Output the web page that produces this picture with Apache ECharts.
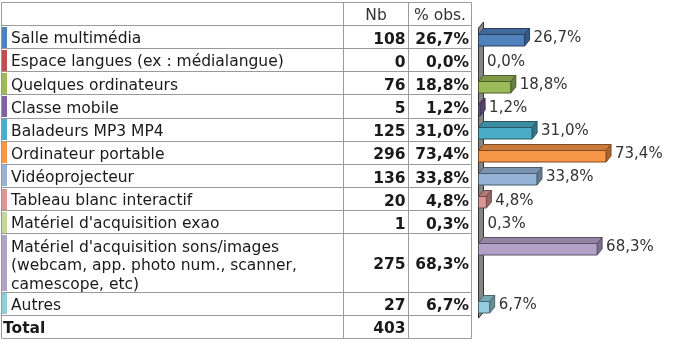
<!DOCTYPE html>
<html>
<head>
<meta charset="utf-8">
<script src="https://cdn.jsdelivr.net/npm/echarts@6/dist/echarts.min.js"></script>
<style>html,body{margin:0;padding:0;background:#fff}#c{width:673px;height:346px}</style>
</head>
<body>
<div id="c"></div>
<script>
// ---- data ----
const categories = [
  'Salle multimédia',
  'Espace langues (ex : médialangue)',
  'Quelques ordinateurs',
  'Classe mobile',
  'Baladeurs MP3 MP4',
  'Ordinateur portable',
  'Vidéoprojecteur',
  'Tableau blanc interactif',
  "Matériel d'acquisition exao",
  "Matériel d'acquisition sons/images\n(webcam, app. photo num., scanner,\ncamescope, etc)",
  'Autres'
];
const counts = [108, 0, 76, 5, 125, 296, 136, 20, 1, 275, 27];
const percents = [26.7, 0.0, 18.8, 1.2, 31.0, 73.4, 33.8, 4.8, 0.3, 68.3, 6.7];
const headerLabels = ['Nb', '% obs.'];
const totalLabel = 'Total';
const totalCount = 403;

// ---- style ----
const palette = ['#4F81BD', '#C0504D', '#9BBB59', '#8064A2', '#4BACC6', '#F79646',
                 '#95B3D7', '#D99694', '#C3D69B', '#B3A2C7', '#93CDDD'];
const FONT_FAMILY = '"DejaVu Sans", Verdana, sans-serif';
const FS = 15.5;
const FS_LABEL = 15;
const TEXT = '#1a1a1a';
const BORDER = '#9a9a9a';

// ---- layout ----
const TOP = 2.5, HEADER_H = 23, ROW_H = 23.15, LINE_H = 17.5;
const X_L = 1.5, X_C1 = 343.5, X_C2 = 408.5, X_C3 = 471.5;
const rows = [];
let yy = TOP + HEADER_H;
categories.forEach(c => {
  const n = c.split('\n').length;
  const h = ROW_H + LINE_H * (n - 1);
  rows.push({ top: yy, h: h });
  yy += h;
});
const totalTop = yy;
const tableBottom = yy + ROW_H;
const snap = v => Math.round(v - 0.5) + 0.5;
const fmtPct = v => v.toFixed(1).replace('.', ',') + '%';

function shade(hex, f) {
  const n = parseInt(hex.slice(1), 16);
  const r = Math.round(((n >> 16) & 255) * f), g = Math.round(((n >> 8) & 255) * f), b = Math.round((n & 255) * f);
  return 'rgb(' + r + ',' + g + ',' + b + ')';
}

// ---- table (graphic) ----
const els = [];
function hline(y) {
  els.push({ type: 'line', silent: true, shape: { x1: X_L, y1: snap(y), x2: X_C3, y2: snap(y) }, style: { stroke: BORDER, lineWidth: 1 } });
}
function vline(x) {
  els.push({ type: 'line', silent: true, shape: { x1: x, y1: snap(TOP), x2: x, y2: snap(tableBottom) }, style: { stroke: BORDER, lineWidth: 1 } });
}
function txt(s, x, y, opt) {
  els.push({ type: 'text', silent: true, x: x, y: y, style: {
    text: s, font: (opt.bold ? 'bold ' : '') + FS + 'px ' + FONT_FAMILY,
    fill: opt.fill || TEXT, align: opt.align || 'left', verticalAlign: opt.va || 'middle',
    lineHeight: opt.lh || undefined
  } });
}
hline(TOP); hline(TOP + HEADER_H);
rows.forEach(r => hline(r.top + r.h));
hline(tableBottom);
[X_L, X_C1, X_C2, X_C3].forEach(vline);

txt(headerLabels[0], (X_C1 + X_C2) / 2, TOP + HEADER_H / 2 + 2, { align: 'center', fill: '#333' });
txt(headerLabels[1], (X_C2 + X_C3) / 2, TOP + HEADER_H / 2 + 2, { align: 'center', fill: '#333' });

categories.forEach((c, i) => {
  const r = rows[i];
  els.push({ type: 'rect', silent: true, shape: { x: X_L + 0.5, y: Math.round(r.top) + 1, width: 5, height: Math.round(r.h) - 2 }, style: { fill: palette[i] } });
  txt(c, 11, r.top + 4.5, { va: 'top', lh: 18.5 });
  const cy = r.top + r.h / 2 + 2.5;
  txt(String(counts[i]), X_C2 - 3, cy, { bold: true, align: 'right' });
  txt(fmtPct(percents[i]), X_C3 - 2.5, cy, { bold: true, align: 'right' });
});
txt(totalLabel, 3, totalTop + ROW_H / 2 + 2, { bold: true });
txt(String(totalCount), X_C2 - 3, totalTop + ROW_H / 2 + 2, { bold: true, align: 'right' });

// ---- chart ----
const FH = 11.5, DX = 5, DY = 6;
const barData = percents.map((p, i) => [p, rows[i].top - TOP + 11.6, i]);
const last = rows[rows.length - 1];
const wallData = [[0, rows[0].top - TOP + 2.5, last.top + last.h - TOP + 3]];

const chart = echarts.init(document.getElementById('c'));
chart.setOption({
  animation: false,
  grid: { left: 478, width: 174.4, top: TOP, height: tableBottom - TOP },
  xAxis: { type: 'value', min: 0, max: 100, show: false },
  yAxis: { type: 'value', min: 0, max: tableBottom - TOP, inverse: true, show: false },
  graphic: { elements: els },
  series: [
    {
      type: 'custom', clip: false, data: wallData, z: 1,
      renderItem: function (params, api) {
        const a = api.coord([api.value(0), api.value(1)]);
        const b = api.coord([api.value(0), api.value(2)]);
        const x = snap(a[0]);
        return {
          type: 'polygon',
          shape: { points: [[x, a[1]], [x + DX, a[1] - DY], [x + DX, b[1] - DY], [x, b[1]]] },
          style: { fill: '#858585', stroke: '#333', lineWidth: 1 }
        };
      }
    },
    {
      type: 'custom', clip: false, data: barData, z: 2,
      renderItem: function (params, api) {
        const v = api.value(0), c = api.value(1), i = api.value(2);
        const p0 = api.coord([0, c]);
        const p1 = api.coord([v, c]);
        const x0 = snap(p0[0]), x1 = p1[0];
        const ft = Math.round(p0[1] - (FH + DY) / 2 + DY) + 0.5, fb = ft + FH;
        const col = palette[i];
        const stroke = shade(col, 0.5);
        const children = [];
        if (x1 - x0 >= 1) {
          children.push({ type: 'polygon', shape: { points: [[x0, ft], [x0 + DX, ft - DY], [x1 + DX, ft - DY], [x1, ft]] },
            style: { fill: shade(col, 0.82), stroke: stroke, lineWidth: 1 } });
          children.push({ type: 'polygon', shape: { points: [[x1, ft], [x1 + DX, ft - DY], [x1 + DX, fb - DY], [x1, fb]] },
            style: { fill: shade(col, 0.68), stroke: stroke, lineWidth: 1 } });
          children.push({ type: 'rect', shape: { x: x0, y: ft, width: x1 - x0, height: FH },
            style: { fill: col, stroke: stroke, lineWidth: 1 } });
        }
        children.push({ type: 'text', x: x1 + DX + 4, y: p0[1] + 1.5,
          style: { text: fmtPct(v), font: FS_LABEL + 'px ' + FONT_FAMILY, fill: '#333', align: 'left', verticalAlign: 'middle' } });
        return { type: 'group', children: children };
      }
    }
  ]
});
</script>
</body>
</html>
